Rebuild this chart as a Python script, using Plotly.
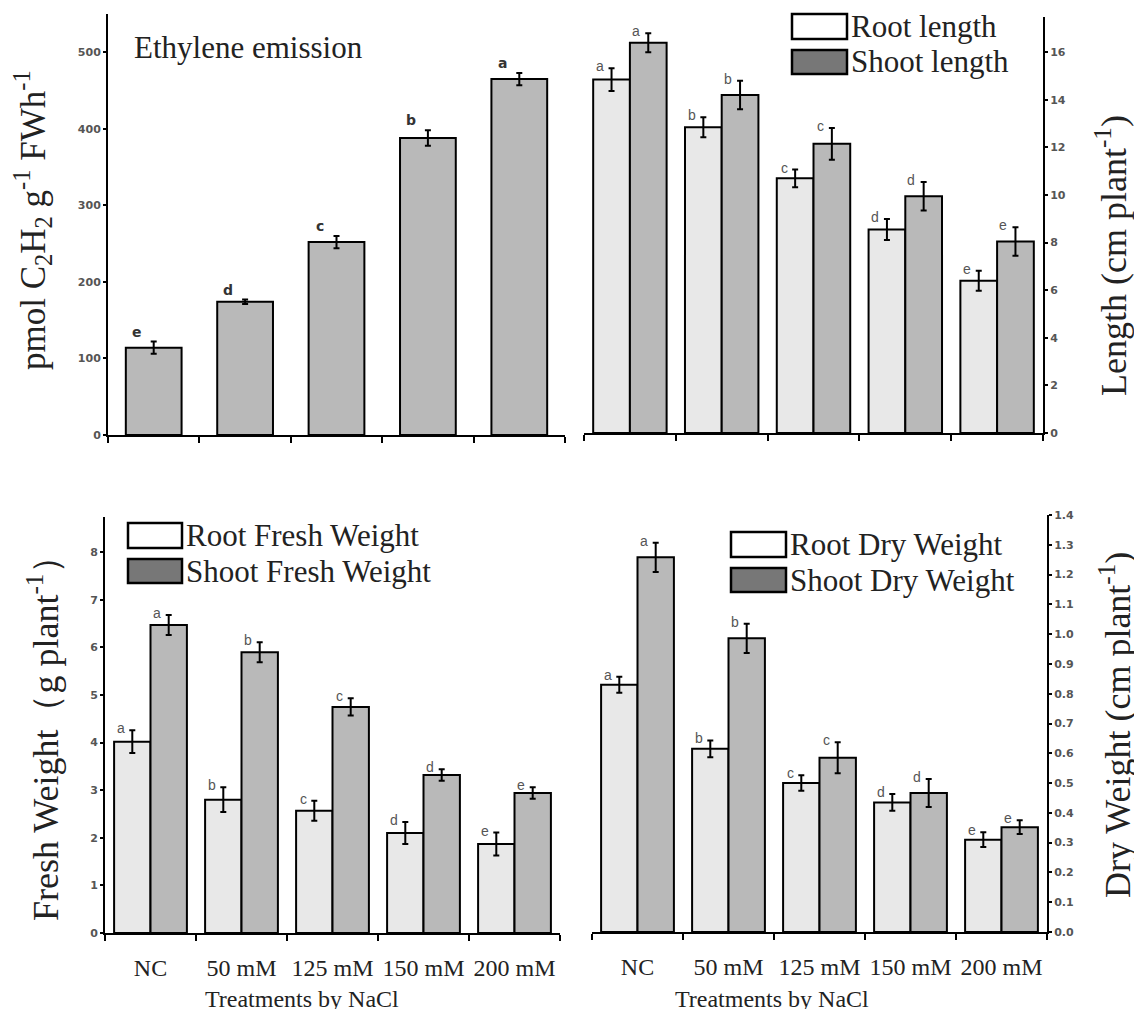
import plotly.graph_objects as go

# ---------------- data ----------------
treatments = ["NC", "50 mM", "125 mM", "150 mM", "200 mM"]

ethylene = [114, 174, 252, 388, 465]
ethylene_err = [8, 3, 8, 10, 8]
ethylene_letters = ["e", "d", "c", "b", "a"]

root_len = [14.85, 12.85, 10.7, 8.55, 6.4]
root_len_err = [0.48, 0.42, 0.37, 0.44, 0.42]
shoot_len = [16.4, 14.2, 12.15, 9.95, 8.05]
shoot_len_err = [0.4, 0.6, 0.67, 0.6, 0.6]

root_fw = [4.02, 2.8, 2.57, 2.1, 1.87]
root_fw_err = [0.24, 0.26, 0.21, 0.23, 0.24]
shoot_fw = [6.47, 5.9, 4.75, 3.32, 2.94]
shoot_fw_err = [0.21, 0.21, 0.18, 0.12, 0.12]

root_dw = [0.83, 0.615, 0.50, 0.435, 0.31]
root_dw_err = [0.027, 0.028, 0.026, 0.028, 0.025]
shoot_dw = [1.258, 0.986, 0.585, 0.467, 0.352]
shoot_dw_err = [0.049, 0.049, 0.052, 0.047, 0.023]

group_letters = ["a", "b", "c", "d", "e"]

# ---------------- style ----------------
# the page body has an 8px margin, so the figure is drawn 8px in from the corner
OFF = 8
W, H = 1142 - OFF, 1009 - OFF
ROOT_C = "#e8e8e8"
SHOOT_C = "#b9b9b9"
SERIF = "Liberation Serif, Times New Roman, serif"


def px(x):
    return (x - OFF) / W


def py(y):
    return 1 - (y - OFF) / H


def err(arr):
    return dict(type="data", array=arr, color="black", thickness=2, width=3)


fig = go.Figure()

# top-left: ethylene
fig.add_trace(go.Bar(x=treatments, y=ethylene, error_y=err(ethylene_err),
                     marker=dict(color=SHOOT_C, line=dict(color="black", width=2)),
                     width=0.61, offset=-0.305, xaxis="x", yaxis="y", showlegend=False))

panels = [
    ("x2", "y2", root_len, root_len_err, shoot_len, shoot_len_err),
    ("x3", "y3", root_fw, root_fw_err, shoot_fw, shoot_fw_err),
    ("x4", "y4", root_dw, root_dw_err, shoot_dw, shoot_dw_err),
]
for xa, ya, r, re, s, se in panels:
    fig.add_trace(go.Bar(x=treatments, y=r, error_y=err(re),
                         marker=dict(color=ROOT_C, line=dict(color="black", width=2)),
                         width=0.4, offset=-0.4, xaxis=xa, yaxis=ya, showlegend=False))
    fig.add_trace(go.Bar(x=treatments, y=s, error_y=err(se),
                         marker=dict(color=SHOOT_C, line=dict(color="black", width=2)),
                         width=0.4, offset=0.0, xaxis=xa, yaxis=ya, showlegend=False))

tickfont = dict(family="DejaVu Sans", size=11, color="#555555", weight="bold")


def xaxis(dom, anchor, labels):
    d = dict(domain=[px(dom[0]), px(dom[1])], anchor=anchor, type="category",
             range=[-0.5, 4.5], showline=True, linecolor="black", linewidth=2,
             ticks="outside", tickson="boundaries", ticklen=6, tickwidth=2,
             tickcolor="black", showgrid=False, zeroline=False,
             showticklabels=labels, automargin=False, tickangle=0)
    if labels:
        d.update(tickfont=dict(family=SERIF, size=24, color="#222222"),
                 ticklabelstandoff=12)
    return d


def yaxis(dom, anchor, rng, dtick, side="left", fmt=None):
    d = dict(domain=[py(dom[0]), py(dom[1])], anchor=anchor, range=rng,
             dtick=dtick, tick0=0, showline=True, linecolor="black", linewidth=2,
             ticks="outside", ticklen=3, tickwidth=1.5, tickcolor="black",
             showgrid=False, zeroline=False, side=side, tickfont=tickfont,
             automargin=False)
    if fmt:
        d["tickformat"] = fmt
    return d


fig.update_layout(
    width=W, height=H, margin=dict(l=0, r=0, t=0, b=0, autoexpand=False),
    paper_bgcolor="white", plot_bgcolor="white",
    barmode="overlay",
    xaxis=xaxis((108, 565), "y", False),
    yaxis=yaxis((435, 14), "x", [0, 550], 100),
    xaxis2=xaxis((584, 1043), "y2", False),
    yaxis2=yaxis((433, 16.5), "x2", [0, 17.5], 2, side="right"),
    xaxis3=xaxis((105, 560), "y3", True),
    yaxis3=yaxis((933, 516.5), "x3", [0, 8.75], 1),
    xaxis4=xaxis((592, 1047), "y4", True),
    yaxis4=yaxis((932, 515), "x4", [0, 1.4], 0.1, side="right", fmt=".1f"),
)

ann = []
# letters top-left
for i, (v, e, l) in enumerate(zip(ethylene, ethylene_err, ethylene_letters)):
    ann.append(dict(x=i, y=v + e, xref="x", yref="y", text=l, showarrow=False,
                    xanchor="center", yanchor="bottom", xshift=-17, yshift=0,
                    font=dict(family="DejaVu Sans", size=14, color="#333333", weight="bold")))
# letters grouped panels
for xa, ya, r, re, s, se in panels:
    for i in range(5):
        for vals, errs, sh in ((r, re, -24), (s, se, 12)):
            ann.append(dict(x=i, y=vals[i] + errs[i], xref=xa, yref=ya,
                            text=group_letters[i], showarrow=False,
                            xanchor="right", yanchor="middle", xshift=sh, yshift=2,
                            font=dict(family="Liberation Sans, Arial", size=14, color="#555555")))

# titles
ann.append(dict(x=px(132), y=py(47), xref="paper", yref="paper", text="Ethylene emission",
                showarrow=False, xanchor="left", yanchor="middle",
                font=dict(family=SERIF, size=31, color="#222222")))
ytitles = [
    ("pmol C<sub>2</sub>H<sub>2</sub> g<sup>-1</sup> FWh<sup>-1</sup>", 33, 220, 35),
    ("Length (cm plant<sup>-1</sup>)", 1111, 256, 36),
    ("Fresh Weight（g plant<sup>-1</sup>）", 43, 730, 36),
    ("Dry Weight (cm plant<sup>-1</sup>)", 1115, 725, 36),
]
for t, x, y, fs in ytitles:
    ann.append(dict(x=px(x), y=py(y), xref="paper", yref="paper", text=t, showarrow=False,
                    textangle=-90, xanchor="center", yanchor="middle",
                    font=dict(family=SERIF, size=fs, color="#222222")))
for x in (302, 772):
    ann.append(dict(x=px(x), y=py(999), xref="paper", yref="paper", text="Treatments by NaCl",
                    showarrow=False, xanchor="center", yanchor="middle",
                    font=dict(family=SERIF, size=24, color="#222222")))

# legends
legends = [
    (792, 847, 14, 39, 50, 74, "Root length", "Shoot length"),
    (128, 182, 523, 548, 559, 583, "Root Fresh Weight", "Shoot Fresh Weight"),
    (731, 786, 532, 557, 568, 592, "Root Dry Weight", "Shoot Dry Weight"),
]
shapes = []
for x0, x1, a0, a1, b0, b1, t1, t2 in legends:
    for (y0, y1, col, txt) in ((a0, a1, "white", t1), (b0, b1, "#777777", t2)):
        shapes.append(dict(type="rect", xref="paper", yref="paper",
                           x0=px(x0), x1=px(x1), y0=py(y1), y1=py(y0),
                           fillcolor=col, line=dict(color="black", width=2.5)))
        ann.append(dict(x=px(x1 + 2), y=py((y0 + y1) / 2), xref="paper", yref="paper",
                        text=txt, showarrow=False, xanchor="left", yanchor="middle",
                        font=dict(family=SERIF, size=31, color="#222222")))

fig.update_layout(annotations=ann, shapes=shapes)
fig.write_html("out.html")
